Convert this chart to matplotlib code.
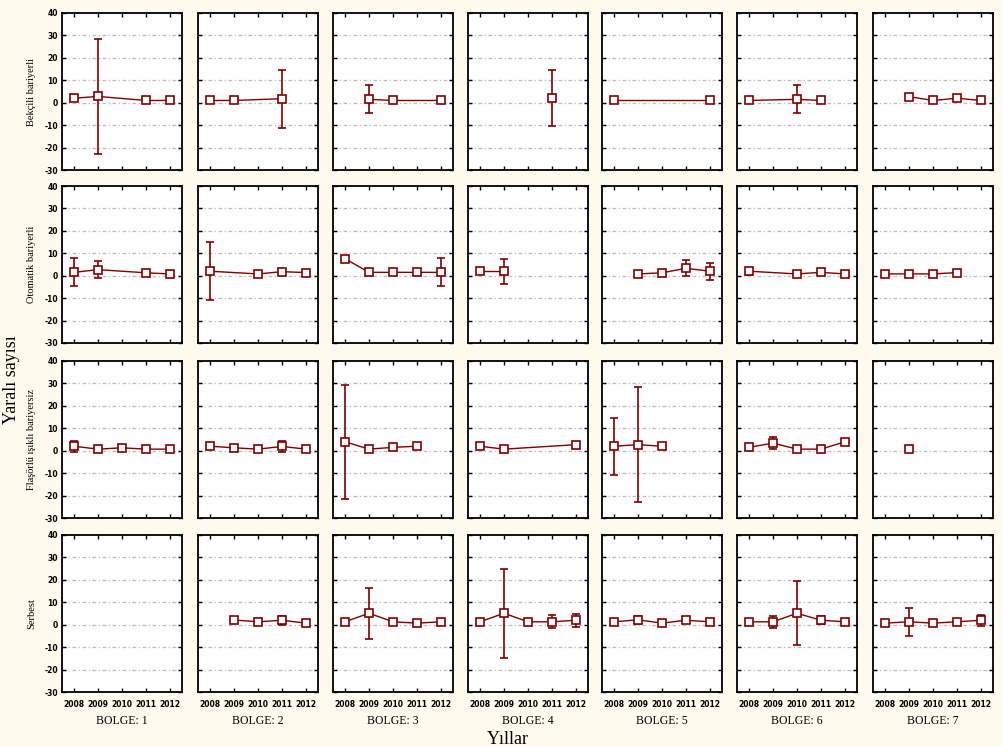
import numpy as np
import matplotlib
matplotlib.use("Agg")
import matplotlib.pyplot as plt

plt.rcParams["axes.unicode_minus"] = False

years = [2008, 2009, 2010, 2011, 2012]
regions = ["BOLGE: 1", "BOLGE: 2", "BOLGE: 3", "BOLGE: 4", "BOLGE: 5", "BOLGE: 6", "BOLGE: 7"]
row_labels = ["Bekçili bariyerli", "Otomatik bariyerli", "Flaşörlü ışıklı bariyersiz", "Serbest"]
nan = np.nan

# means[row][region] over years; errs = half-width of error bars
bekcili_mean = [
    [2.0, 2.8, nan, 1.0, 1.0],
    [1.0, 1.0, nan, 1.8, nan],
    [nan, 1.5, 1.0, nan, 1.0],
    [nan, nan, nan, 2.0, nan],
    [1.0, nan, nan, nan, 1.0],
    [1.0, nan, 1.5, 1.0, nan],
    [nan, 2.7, 1.0, 2.0, 1.0],
]
bekcili_err = [
    [0, 25.5, 0, 0, 0],
    [0, 0, 0, 13.0, 0],
    [0, 6.2, 0, 0, 0],
    [0, 0, 0, 12.5, 0],
    [0, 0, 0, 0, 0],
    [0, 0, 6.2, 0, 0],
    [0, 0, 0, 0, 0],
]
otomatik_mean = [
    [1.5, 2.7, nan, 1.3, 0.8],
    [2.0, nan, 0.8, 1.8, 1.4],
    [7.6, 1.5, 1.5, 1.5, 1.5],
    [1.9, 1.9, nan, nan, nan],
    [nan, 0.8, 1.3, 3.3, 2.0],
    [2.0, nan, 0.8, 1.5, 0.8],
    [0.8, 0.8, 0.8, 1.4, nan],
]
otomatik_err = [
    [6.2, 3.8, 0, 1.0, 0],
    [12.9, 0, 0, 0, 0],
    [0, 0, 0, 0, 6.2],
    [0, 5.7, 0, 0, 0],
    [0, 0, 0.8, 3.5, 3.7],
    [1.5, 0, 0, 0, 0],
    [0, 0, 0, 0, 0],
]
flasorlu_mean = [
    [2.0, 0.7, 1.3, 0.7, 0.7],
    [2.0, 1.3, 0.7, 1.9, 0.7],
    [4.0, 0.7, 1.5, 2.0, nan],
    [2.0, 0.7, nan, nan, 2.7],
    [2.0, 2.7, 2.0, nan, nan],
    [1.5, 3.4, 0.7, 0.7, 4.0],
    [nan, 0.7, nan, nan, nan],
]
flasorlu_err = [
    [2.5, 0, 0.8, 0, 0],
    [0, 0.8, 0, 2.5, 0],
    [25.5, 0, 0, 0, 0],
    [0, 0, 0, 0, 0],
    [12.8, 25.5, 0, 0, 0],
    [1.0, 2.8, 0, 0, 0],
    [0, 0, 0, 0, 0],
]
serbest_mean = [
    [nan, nan, nan, nan, nan],
    [nan, 2.1, 1.3, 2.0, 0.7],
    [1.3, 5.1, 1.3, 0.7, 1.3],
    [1.3, 5.1, 1.3, 1.3, 2.0],
    [1.3, 2.2, 0.7, 2.0, 1.3],
    [1.3, 1.3, 5.1, 2.0, 1.3],
    [0.7, 1.3, 0.7, 1.3, 2.0],
]
serbest_err = [
    [0, 0, 0, 0, 0],
    [0, 0, 0, 2.0, 0],
    [0, 11.3, 0, 0, 0],
    [0, 19.8, 0, 2.9, 2.8],
    [1.0, 1.8, 0, 0, 0.8],
    [0, 2.7, 14.3, 1.8, 0],
    [0, 6.3, 0, 0, 2.4],
]

means = [bekcili_mean, otomatik_mean, flasorlu_mean, serbest_mean]
errs = [bekcili_err, otomatik_err, flasorlu_err, serbest_err]

W, H = 1002, 746
bg = "#fffaee"
red = "#800000"
fig = plt.figure(figsize=(W / 100, H / 100), dpi=100, facecolor=bg)

lefts = [62, 198, 333, 468, 602, 737, 873]
tops = [13, 186, 361, 535]
pw, ph = 120, 157
serif = ["Liberation Serif", "DejaVu Serif"]

for r in range(4):
    for c in range(7):
        ax = fig.add_axes([lefts[c] / W, 1 - (tops[r] + ph) / H, pw / W, ph / H])
        ax.set_facecolor("white")
        ax.set_xlim(2007.5, 2012.5)
        ax.set_ylim(-30, 40)
        ax.set_xticks(years)
        ax.set_yticks(range(-30, 41, 10))
        for g in range(-20, 31, 10):
            ax.axhline(g, color="#bdbdbd", lw=0.9, ls=(0, (3, 2, 1, 2)), zorder=0)
        m = np.array(means[r][c], dtype=float)
        e = np.array(errs[r][c], dtype=float)
        yr = np.array(years, dtype=float)
        ok = ~np.isnan(m)
        if ok.any():
            ax.plot(yr[ok], m[ok], color=red, lw=1.0, zorder=2)
            eb = ok & (e > 0)
            if eb.any():
                ax.errorbar(yr[eb], m[eb], yerr=e[eb], fmt="none", ecolor=red,
                            elinewidth=1.2, capsize=3, capthick=1.2, zorder=3)
            ax.plot(yr[ok], m[ok], ls="none", marker="s", ms=6, mfc="white",
                    mec=red, mew=1.2, zorder=4)
        for s in ax.spines.values():
            s.set_linewidth(1.3)
            s.set_color("black")
        ax.tick_params(axis="both", direction="in", length=3, width=1,
                       top=True, right=True, labelsize=5.5, pad=3)
        if c == 0:
            ax.tick_params(axis="y", labelleft=True)
            for lab in ax.get_yticklabels():
                lab.set_fontweight("bold")
            ax.set_ylabel(row_labels[r], fontsize=7.5, family=serif, labelpad=6)
        else:
            ax.tick_params(axis="y", labelleft=False)
        if r == 3:
            ax.tick_params(axis="x", labelbottom=True, pad=6)
            for lab in ax.get_xticklabels():
                lab.set_fontweight("bold")
            fig.text((lefts[c] + pw / 2) / W, 1 - 721 / H, regions[c],
                     ha="center", va="center", fontsize=8.5, family=serif)
        else:
            ax.tick_params(axis="x", labelbottom=False)

fig.text(12 / W, 1 - 380 / H, "Yaralı sayısı", rotation=90, ha="center",
         va="center", fontsize=13, family=serif)
fig.text(508 / W, 1 - 739 / H, "Yıllar", ha="center", va="center",
         fontsize=13, family=serif)

fig.savefig("out.png", dpi=100, facecolor=bg)
